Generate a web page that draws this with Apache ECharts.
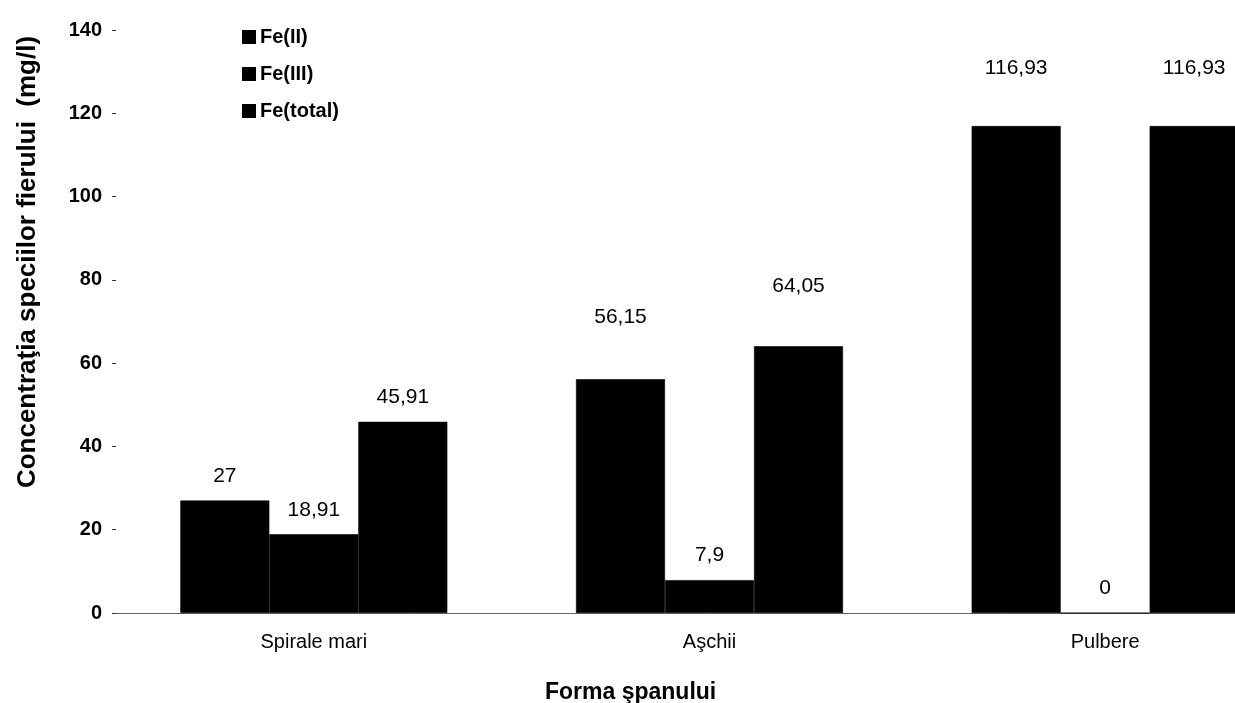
<!DOCTYPE html>
<html>
<head>
<meta charset="utf-8">
<script src="https://cdn.jsdelivr.net/npm/echarts@6/dist/echarts.min.js"></script>
<style>html,body{margin:0;padding:0;background:#fff;overflow:hidden}#c{width:1310px;height:703px}</style>
</head>
<body>
<div id="c"></div>
<script>
// ---- data ----
const categories = ['Spirale mari', 'Aşchii', 'Pulbere'];
const seriesNames = ['Fe(II)', 'Fe(III)', 'Fe(total)'];
const feII = [27, 56.15, 116.93];
const feIII = [18.91, 7.9, 0];
const feTotal = [45.91, 64.05, 116.93];
const yTicks = [0, 20, 40, 60, 80, 100, 120, 140];
const xTitle = 'Forma şpanului';
const yTitle = 'Concentraţia speciilor fierului  (mg/l)';

// label distance above bar (style, not data)
const labelDist = [
  [14, 51, 47],
  [14, 14, 14],
  [14, 50, 47]
];

const FONT = 'Liberation Sans, Arial, sans-serif';
const allValues = [feII, feIII, feTotal];

const series = allValues.map((vals, si) => ({
  name: seriesNames[si],
  type: 'bar',
  barWidth: 89,
  barGap: '0%',
  itemStyle: { color: '#000', borderColor: '#000', borderWidth: 0.6 },
  data: vals.map((v, ci) => ({
    value: v,
    label: { distance: labelDist[si][ci] }
  })),
  label: {
    show: true,
    position: 'top',
    color: '#000',
    fontFamily: FONT,
    fontSize: 21,
    formatter: p => String(p.value).replace('.', ',')
  }
}));

const chart = echarts.init(document.getElementById('c'), null, { renderer: 'canvas' });
chart.setOption({
  animation: false,
  backgroundColor: '#fff',
  grid: { left: 116, top: 30, width: 1187, height: 583, containLabel: false },
  legend: {
    orient: 'vertical',
    left: 237,
    top: 22,
    icon: 'rect',
    itemWidth: 12,
    itemHeight: 12,
    itemGap: 17,
    data: seriesNames,
    textStyle: { color: '#000', fontFamily: FONT, fontSize: 20, fontWeight: 'bold', lineHeight: 20 }
  },
  title: {
    text: xTitle,
    left: 540,
    top: 676,
    textStyle: { color: '#000', fontFamily: FONT, fontSize: 23, fontWeight: 'bold' }
  },
  graphic: [{
    type: 'text',
    x: 28,
    y: 262,
    rotation: Math.PI / 2,
    style: {
      text: yTitle,
      align: 'center',
      verticalAlign: 'middle',
      fill: '#000',
      font: 'bold 26px ' + FONT
    }
  }],
  xAxis: {
    type: 'category',
    data: categories,
    axisLine: { show: true, lineStyle: { color: '#666', width: 1 } },
    axisTick: { show: false },
    axisLabel: { color: '#000', fontFamily: FONT, fontSize: 20, margin: 19 }
  },
  yAxis: {
    type: 'value',
    min: yTicks[0],
    max: yTicks[yTicks.length - 1],
    interval: yTicks[1] - yTicks[0],
    axisLine: { show: false },
    axisTick: { show: true, length: 4, lineStyle: { color: '#333' } },
    splitLine: { show: false },
    axisLabel: { color: '#000', fontFamily: FONT, fontSize: 20, fontWeight: 'bold', margin: 14 }
  },
  series: series
});
</script>
</body>
</html>
